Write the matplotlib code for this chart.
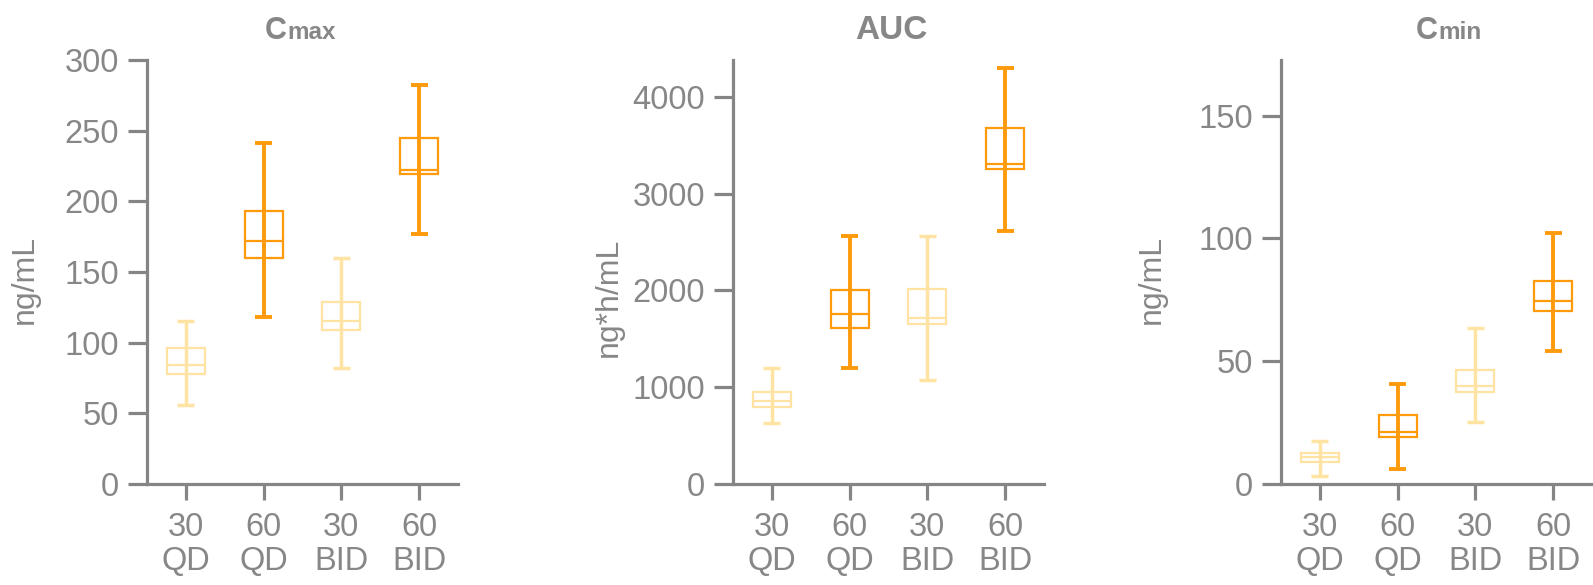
import matplotlib
matplotlib.use("Agg")
import matplotlib.pyplot as plt

plt.rcParams['font.family'] = ['Liberation Sans', 'DejaVu Sans']

# dose groups
groups = ['30\nQD', '60\nQD', '30\nBID', '60\nBID']
light = '#FFE3A3'
dark = '#FF9A0A'
box_colors = [light, dark, light, dark]

# Cmax (ng/mL): whisker low, q1, median, q3, whisker high
cmax_lo = [56, 118, 82, 177]
cmax_q1 = [78, 160, 109, 219]
cmax_med = [84, 172, 115, 222]
cmax_q3 = [96, 193, 129, 245]
cmax_hi = [115, 241, 160, 282]

# AUC (ng*h/mL)
auc_lo = [628, 1202, 1078, 2609]
auc_q1 = [795, 1616, 1655, 3252]
auc_med = [853, 1752, 1717, 3302]
auc_q3 = [946, 2004, 2019, 3678]
auc_hi = [1194, 2566, 2566, 4295]

# Cmin (ng/mL)
cmin_lo = [3.1, 6.1, 25.2, 54.2]
cmin_q1 = [8.9, 19.1, 37.4, 70.6]
cmin_med = [11.0, 21.1, 40.0, 74.5]
cmin_q3 = [12.7, 28.1, 46.4, 82.8]
cmin_hi = [17.6, 40.6, 63.7, 102.0]

gray = '#878787'
spine_gray = '#858585'
W, H = 1593, 585

fig = plt.figure(figsize=(W / 100, H / 100), dpi=100)


def make_axes(left_px, width_px):
    # axes placed in pixel units: bottom spine at y=484, top at y=60
    return fig.add_axes([left_px / W, 1 - 484 / H, width_px / W, 424 / H])


def draw_panel(ax, lo, q1, med, q3, hi, ymax, yticks, ylabel, label_xy):
    pos = list(range(len(groups)))
    bw = 0.49   # box width
    cw = 0.22   # cap width
    for i in pos:
        c = box_colors[i]
        wlw = 2.8 if c == dark else 2.5
        ax.vlines(i, lo[i], hi[i], color=c, lw=wlw, zorder=3)
        ax.hlines([lo[i], hi[i]], i - cw / 2, i + cw / 2, color=c, lw=wlw, zorder=3)
        ax.bar(i, q3[i] - q1[i], bottom=q1[i], width=bw, fill=False,
               edgecolor=c, linewidth=1.6, zorder=2)
        ax.hlines(med[i], i - bw / 2, i + bw / 2, color=c, lw=1.6, zorder=3)

    ax.set_xlim(-0.5, 3.5)
    ax.set_ylim(0, ymax)
    ax.set_xticks(pos)
    ax.set_xticklabels(groups, linespacing=1.15)
    ax.set_yticks(yticks)
    for s in ['top', 'right']:
        ax.spines[s].set_visible(False)
    for s in ['left', 'bottom']:
        ax.spines[s].set_color(spine_gray)
        ax.spines[s].set_linewidth(2.3)
    ax.tick_params(axis='y', length=13.5, width=2.3, color=spine_gray,
                   labelcolor=gray, labelsize=23.5, pad=6.5)
    ax.tick_params(axis='x', length=11.5, width=2.3, color=spine_gray,
                   labelcolor=gray, labelsize=23.5, pad=8.5)
    ax.set_ylabel(ylabel, color=gray, fontsize=23)
    ax.yaxis.set_label_coords(*label_xy)


ax1 = make_axes(147, 311)
draw_panel(ax1, cmax_lo, cmax_q1, cmax_med, cmax_q3, cmax_hi,
           300, [0, 50, 100, 150, 200, 250, 300], 'ng/mL', (-0.345, 0.483))

ax2 = make_axes(733, 311)
draw_panel(ax2, auc_lo, auc_q1, auc_med, auc_q3, auc_hi,
           4380, [0, 1000, 2000, 3000, 4000], 'ng*h/mL', (-0.35, 0.441))

ax3 = make_axes(1281, 311)
draw_panel(ax3, cmin_lo, cmin_q1, cmin_med, cmin_q3, cmin_hi,
           172.6, [0, 50, 100, 150], 'ng/mL', (-0.367, 0.483))

# titles, with the subscript part set on the baseline in a smaller size
title_y = 1.049
for ax, main, sub, dx in [(ax1, 'C', 'max', -11), (ax3, 'C', 'min', 1)]:
    ax.annotate(main, xy=(0.5, title_y), xycoords='axes fraction',
                xytext=(dx, 0), textcoords='offset points', ha='right',
                va='baseline', fontsize=22, fontweight='bold', color=gray)
    ax.annotate(sub, xy=(0.5, title_y), xycoords='axes fraction',
                xytext=(dx, 0), textcoords='offset points', ha='left',
                va='baseline', fontsize=17.5, fontweight='bold', color=gray)
ax2.annotate('AUC', xy=(0.5, title_y), xycoords='axes fraction',
             xytext=(2, 0), textcoords='offset points', ha='center',
             va='baseline', fontsize=24, fontweight='bold', color=gray)

fig.savefig('out.png', dpi=100)
